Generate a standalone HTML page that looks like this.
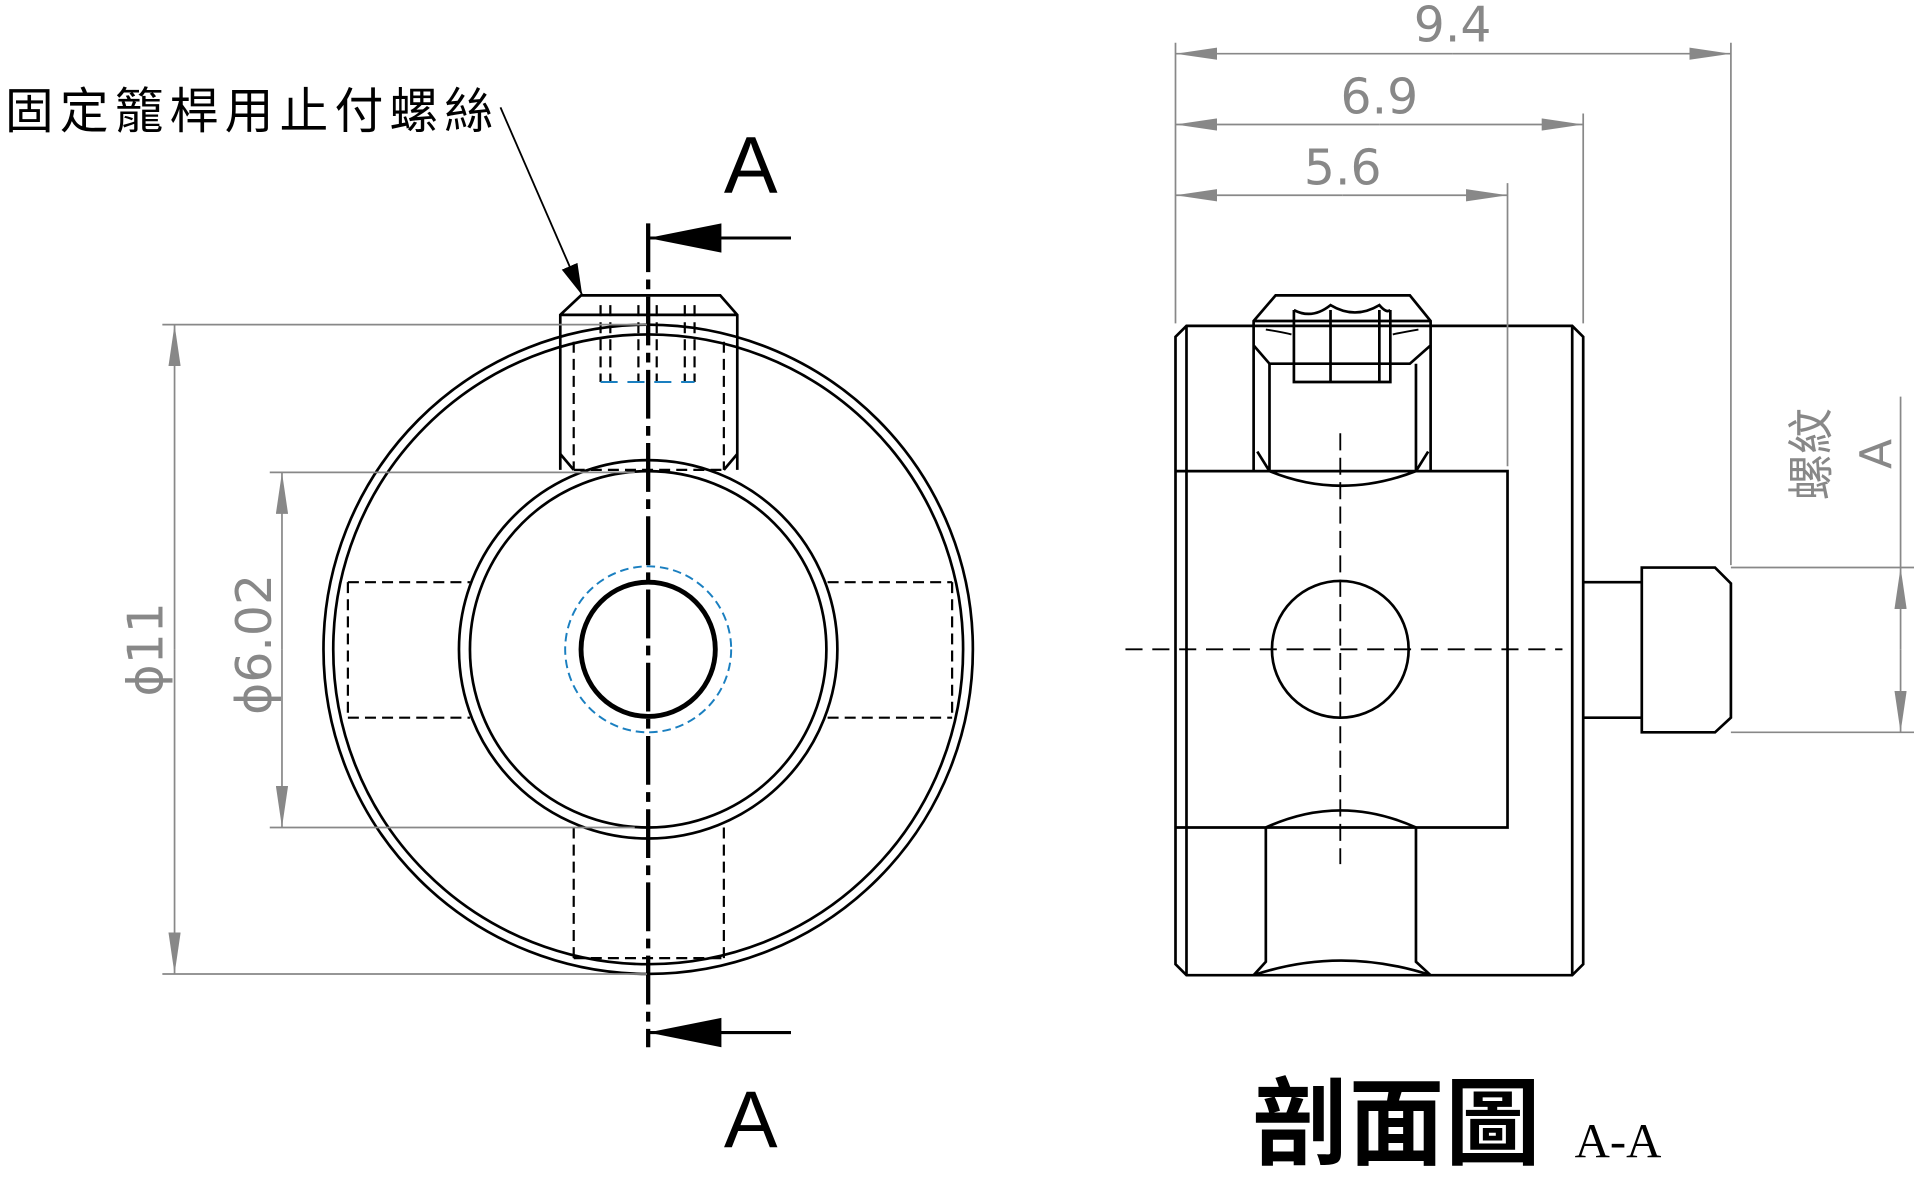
<!DOCTYPE html>
<html><head><meta charset="utf-8"><style>html,body{margin:0;padding:0;background:#fff}svg{display:block}</style></head>
<body>
<svg width="1914" height="1190" viewBox="0 0 1568 975" preserveAspectRatio="none" xmlns="http://www.w3.org/2000/svg">
<defs>
<marker id="ga" markerWidth="34" markerHeight="10" refX="34" refY="5" orient="auto" markerUnits="userSpaceOnUse"><path d="M0,0 L34,5 L0,10 z" fill="#888"/></marker>
<marker id="ka" markerWidth="60" markerHeight="30" refX="60" refY="15" orient="auto" markerUnits="userSpaceOnUse"><path d="M0,3 L60,15 L0,27 z" fill="#000"/></marker>
<marker id="la" markerWidth="26" markerHeight="16" refX="26" refY="8" orient="auto" markerUnits="userSpaceOnUse"><path d="M0,1 L26,8 L0,15 z" fill="#000"/></marker>
</defs>
<g fill="none" stroke="#000" stroke-width="2.2">
<circle cx="531" cy="532" r="266"/>
<circle cx="531" cy="532" r="258"/>
<circle cx="531" cy="532" r="155"/>
<circle cx="531" cy="532" r="146"/>
<circle cx="531" cy="532" r="55" stroke-width="4"/>
<circle cx="531" cy="532" r="68" stroke="#1a7fc0" stroke-width="1.6" stroke-dasharray="7,4"/>
<g stroke-dasharray="9,5" stroke-width="1.8">
<path d="M285,477 H385 M285,588 H385 M285,477 V588 M678,477 H780 M678,588 H780 M780,477 V588"/>
<path d="M470,280 V385 M593,280 V385 M470,385 H593 M492,250 V313 M500,250 V313 M523,250 V313 M538,250 V313 M561,250 V313 M569,250 V313"/>
<path d="M470,678 V785 M593,678 V785 M470,785 H593"/>
</g>
<path d="M492,313 H569" stroke="#1a7fc0" stroke-width="1.6" stroke-dasharray="14,8"/>
<path d="M459,385 V258 L476,242 H590 L604,258 V385" />
<path d="M459,258 H604"/>
<path d="M459,372 L470,385 M604,372 L593,385"/>
<path d="M531,183 V858" stroke-width="3.5" stroke-dasharray="40,6,8,6"/>
<path d="M648,195 H531" stroke-width="2.5" marker-end="url(#ka)"/>
<path d="M648,846 H531" stroke-width="2.5" marker-end="url(#ka)"/>
<path d="M410,88 L477,242" stroke-width="1.5" marker-end="url(#la)"/>
<path d="M972,267 H1288 L1297,276 V790 L1288,799 H972 L963,790 V276 Z"/>
<path d="M963,386 H1235 V678 H963 M972,267 V799 M1288,267 V799"/>
<path d="M1027,799 L1037,788 V678 M1172,799 L1160,788 V678 M1037,678 Q1098,650 1160,678 M1027,799 Q1098,775 1172,799"/>
<path d="M1027,386 V263 L1045,242 H1155 L1172,263 V386 M1027,263 H1172 M1027,283 L1040,298 H1155 L1172,283"/>
<path d="M1040,298 V386 M1160,298 V386 M1040,386 Q1098,410 1160,386 M1030,370 L1040,386 M1170,370 L1160,386"/>
<path d="M1060,254 V313 H1139 V254 M1090,254 V313 M1130,254 V313 M1060,254 Q1075,262 1090,250 Q1110,262 1130,250 Q1136,257 1139,254"/>
<path d="M1037,270 Q1050,272 1058,274 M1162,270 Q1150,272 1141,274" stroke-width="1.6"/>
<circle cx="1098" cy="532" r="56"/>
<path d="M1098,355 V708" stroke-width="1.5" stroke-dasharray="14,6"/>
<path d="M922,532 H1280" stroke-width="1.5" stroke-dasharray="14,8"/>
<path d="M1297,477 H1345 V588 H1297 M1345,465 H1405 L1418,478 V588 L1405,600 H1345 Z"/>
</g>
<g fill="none" stroke="#888" stroke-width="1.4">
<path d="M133,266 H530 M133,798 H530 M221,387 H520 M221,678 H520"/>
<path d="M143,532 V266" marker-end="url(#ga)"/><path d="M143,532 V798" marker-end="url(#ga)"/>
<path d="M231,532 V387" marker-end="url(#ga)"/><path d="M231,532 V678" marker-end="url(#ga)"/>
<path d="M963,35 V265 M1418,35 V463 M1297,93 V265 M1235,150 V382"/>
<path d="M1190,44 H963" marker-end="url(#ga)"/><path d="M1190,44 H1418" marker-end="url(#ga)"/>
<path d="M1130,102 H963" marker-end="url(#ga)"/><path d="M1130,102 H1297" marker-end="url(#ga)"/>
<path d="M1100,160 H963" marker-end="url(#ga)"/><path d="M1100,160 H1235" marker-end="url(#ga)"/>
<path d="M1418,465 H1568 M1418,600 H1568 M1557,325 V465"/>
<path d="M1557,532 V465" marker-end="url(#ga)"/><path d="M1557,532 V600" marker-end="url(#ga)"/>
<path d="M1297,335 V388" stroke="#000"/>
</g>
<g fill="#888" font-family="'DejaVu Sans','Liberation Sans',sans-serif" font-size="40">
<text x="1190" y="34" text-anchor="middle">9.4</text>
<text x="1130" y="93" text-anchor="middle">6.9</text>
<text x="1100" y="151" text-anchor="middle">5.6</text>
<text transform="translate(133,532) rotate(-90)" text-anchor="middle">ϕ11</text>
<text transform="translate(222,528) rotate(-90)" text-anchor="middle">ϕ6.02</text>
<text transform="translate(1497,372) rotate(-90)" text-anchor="middle" font-family="'Liberation Sans','Noto Sans CJK TC',sans-serif" font-size="38">螺紋</text>
<text transform="translate(1549,372) rotate(-90)" text-anchor="middle" font-size="36">A</text>
</g>
<g fill="#000" font-family="'Liberation Sans','Noto Sans CJK TC',sans-serif">
<text x="4" y="105" font-size="40" textLength="400" lengthAdjust="spacing">固定籠桿用止付螺絲</text>
<text x="615" y="158" font-size="66" text-anchor="middle">A</text>
<text x="615" y="940" font-size="66" text-anchor="middle">A</text>
<text x="1026" y="948" font-size="78" font-weight="bold" textLength="236" lengthAdjust="spacing">剖面圖</text>
<text x="1290" y="948" font-size="40" font-family="'Liberation Serif',serif">A-A</text>
</g>
</svg>
</body></html>
